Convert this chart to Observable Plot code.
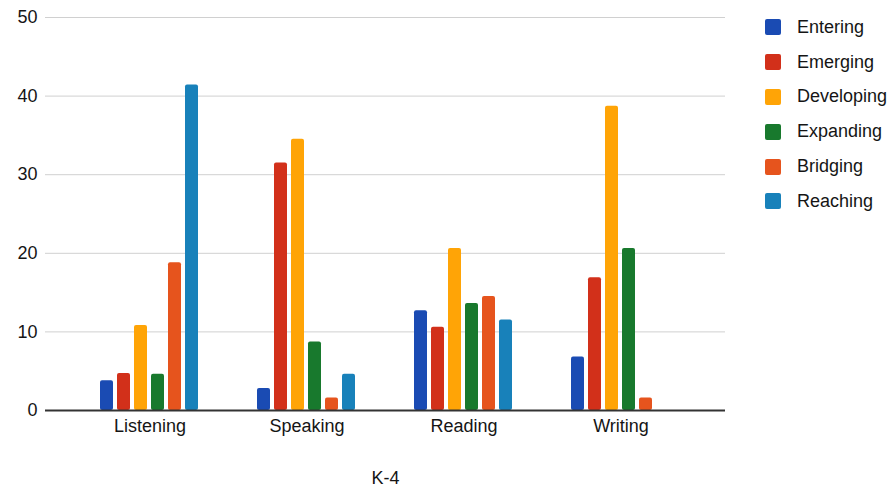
<!DOCTYPE html>
<html><head><meta charset="utf-8">
<script src="https://cdn.jsdelivr.net/npm/d3@7"></script>
<script src="https://cdn.jsdelivr.net/npm/@observablehq/plot@0.6"></script>
<style>
body{margin:0;background:#fff;font-family:"Liberation Sans",Arial,sans-serif;}
#wrap{position:relative;width:896px;height:489px;overflow:hidden;}
#base,#bars{position:absolute;left:0;top:0;}
#legend{position:absolute;left:765px;top:10px;}
.item{display:flex;align-items:center;height:34.8px;font-size:18px;color:#151515;}
.sw{width:16px;height:16px;border-radius:2px;margin-right:16px;}
</style></head><body><div id="wrap"><div id="base"></div><div id="bars"></div><div id="legend"></div></div>
<script>
const categories = ["Listening", "Speaking", "Reading", "Writing"];
const levels = ["Entering", "Emerging", "Developing", "Expanding", "Bridging", "Reaching"];
const listening = [3.8, 4.7, 10.8, 4.6, 18.8, 41.4];
const speaking = [2.8, 31.5, 34.5, 8.7, 1.6, 4.6];
const reading = [12.7, 10.6, 20.6, 13.6, 14.5, 11.5];
const writing = [6.8, 16.9, 38.7, 20.6, 1.6, 0];
const yTicks = [0, 10, 20, 30, 40, 50];
const colors = ["#1a4bb3", "#d2301a", "#ffa406", "#18792d", "#e6541d", "#1881ba"];
const axisLabel = "K-4";

const series = [listening, speaking, reading, writing];
const data = [];
categories.forEach((c, i) => levels.forEach((l, j) => {
  if (series[i][j] > 0) data.push({category: c, level: l, value: series[i][j]});
}));

const font = '"Liberation Sans", Arial, sans-serif';
const common = {
  width: 896, height: 489,
  marginLeft: 45, marginRight: 171, marginTop: 17, marginBottom: 79,
  y: {domain: [0, 50], axis: null}
};

// Layer 1: grid and y axis (whole frame)
const base = Plot.plot({
  ...common,
  style: {fontFamily: font, fontSize: "18px", color: "#151515", background: "#fff"},
  marks: [
    Plot.ruleY(yTicks.filter(d => d > 0), {stroke: "#d0d0d0", strokeWidth: 1}),
    Plot.axisY({ticks: yTicks, tickSize: 0, tickPadding: 8, label: null, fontSize: 18})
  ]
});
document.getElementById("base").appendChild(base);

// Layer 2: grouped bars, category axis
const bars = Plot.plot({
  ...common,
  style: {fontFamily: font, fontSize: "18px", color: "#151515", background: "transparent"},
  fx: {domain: categories, paddingInner: 0, paddingOuter: 0.152, label: null, axis: null},
  x: {domain: levels, paddingInner: 0.23, paddingOuter: 1.63, axis: null},
  color: {domain: levels, range: colors},
  marks: [
    Plot.barY(data, {fx: "category", x: "level", y: "value", fill: "level", rx: 2}),
    Plot.axisFx({anchor: "bottom", domain: categories, tickSize: 0, tickPadding: 9, label: axisLabel, labelAnchor: "center", labelOffset: 73, fontSize: 18})
  ]
});
document.getElementById("bars").appendChild(bars);

// Layer 3: baseline on top of bars
const baseline = Plot.plot({
  ...common,
  style: {background: "transparent"},
  marks: [Plot.ruleY([0], {stroke: "#333", strokeWidth: 2})]
});
baseline.style.position = "absolute"; baseline.style.left = "0"; baseline.style.top = "0";
document.getElementById("wrap").insertBefore(baseline, document.getElementById("legend"));

const legend = document.getElementById("legend");
levels.forEach((l, i) => {
  const row = document.createElement("div");
  row.className = "item";
  const sw = document.createElement("div");
  sw.className = "sw";
  sw.style.background = colors[i];
  const t = document.createElement("span");
  t.textContent = l;
  row.appendChild(sw); row.appendChild(t);
  legend.appendChild(row);
});
</script></body></html>
